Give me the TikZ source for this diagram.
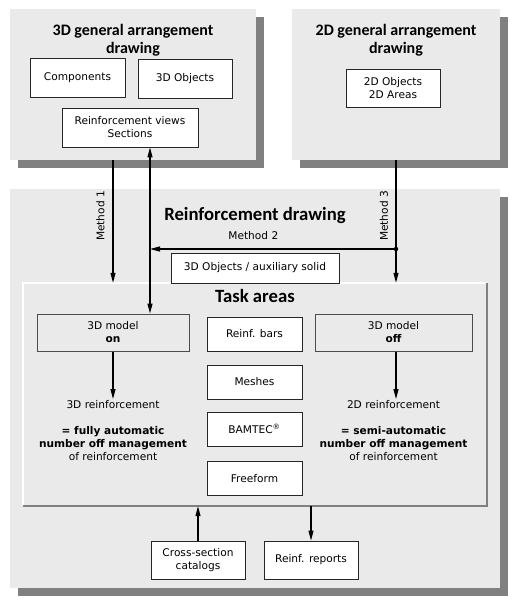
\documentclass[tikz,border=0pt]{standalone}
\usepackage{fontspec}
\setmainfont{DejaVu Sans}
\newfontfamily\titlefont{Carlito}
\usetikzlibrary{arrows.meta,shadows}
\definecolor{panelgray}{HTML}{EAEAEA}
\definecolor{shadegray}{HTML}{808080}

\begin{document}
\begin{tikzpicture}[x=1pt, y=-1pt,
	every node/.style={font=\fontsize{10.6}{13}\selectfont, align=center, inner sep=1pt},
	panel/.style={fill=panelgray, inner sep=0pt, drop shadow={shadow xshift=8pt, shadow yshift=-8pt, fill=shadegray, opacity=1}},
	textbox/.style={draw=black!85, fill=white, line width=0.9pt},
	modelbox/.style={draw=black!70, fill=panelgray, line width=1pt},
	title/.style={font=\titlefont\bfseries\fontsize{16}{18}\selectfont, inner sep=0pt},
	bigtitle/.style={font=\titlefont\bfseries\fontsize{18.7}{22}\selectfont, inner sep=0pt},
	link/.style={line width=1.2pt, -{Triangle[length=10pt,width=5pt]}},
	twoway/.style={line width=1.2pt, {Triangle[length=10pt,width=5pt]}-{Triangle[length=10pt,width=5pt]}},
	]
	\useasboundingbox (0,0) rectangle (521,604);
	\fill[white] (0,0) rectangle (521,604);

	\coordinate[](m2x) at (150,0);
	\coordinate[](m2) at (396,249);

	% Reinforcement drawing
	\node[panel, minimum width=490pt, minimum height=399pt] (rd) at (255,388.5) {};
	\node[bigtitle, anchor=base] (rdtitle) at (255,220) {Reinforcement drawing};

	% Task areas
	\node[fill=panelgray, inner sep=0pt, minimum width=464pt, minimum height=223pt] (task) at (255,394.5) {};
	\draw[white, line width=2pt] (task.south west) |- (task.north east);
	\draw[shadegray, line width=2pt] (task.south west) -| (task.north east);
	\node[bigtitle, anchor=base] (tasktitle) at (255,302) {Task areas};

	\node[textbox, minimum width=168pt, minimum height=30pt] (aux) at (255,268) {3D Objects / auxiliary solid};

	\node[modelbox, minimum width=152pt, minimum height=37pt] (onbox) at (113,332.5) {3D model\\\textbf{on}};
	\node[modelbox, minimum width=157pt, minimum height=37pt] (offbox) at (393.5,332.5) {3D model\\\textbf{off}};

	\node[textbox, minimum width=95pt, minimum height=34pt] (bars) at (254.5,334) {Reinf. bars};
	\node[textbox, minimum width=95pt, minimum height=34pt] (meshes) at (254.5,382) {Meshes};
	\node[textbox, minimum width=95pt, minimum height=34pt] (bamtec) at (254.5,429) {BAMTEC\textsuperscript{®}};
	\node[textbox, minimum width=95pt, minimum height=34pt] (freeform) at (254.5,478.5) {Freeform};

	\node[anchor=north] (reinfon) at (113,399) {3D reinforcement\\[13pt]\textbf{= fully automatic}\\\textbf{number off management}\\of reinforcement};
	\node[anchor=north] (reinfoff) at (393.5,399) {2D reinforcement\\[13pt]\textbf{= semi-automatic}\\\textbf{number off management}\\of reinforcement};

	\draw[link] (onbox.south) -- (reinfon.north);
	\draw[link] (offbox.south -| m2) -- (reinfoff.north -| m2);

	% 3D general arrangement drawing
	\node[panel, minimum width=246pt, minimum height=151pt] (ga3d) at (133,84.5) {};
	\node[title, anchor=north] (ga3dtitle) at (133,24) {3D general arrangement\\drawing};
	\node[textbox, minimum width=95pt, minimum height=39pt] (comp) at (77.5,77.5) {Components};
	\node[textbox, minimum width=94pt, minimum height=39pt] (obj3d) at (185,78.5) {3D Objects};
	\node[textbox, minimum width=136pt, minimum height=39pt] (views) at (130,127.5) {Reinforcement views\\Sections};

	% 2D general arrangement drawing
	\node[panel, minimum width=208pt, minimum height=151pt] (ga2d) at (396,84.5) {};
	\node[title, anchor=north] (ga2dtitle) at (396,24) {2D general arrangement\\drawing};
	\node[textbox, minimum width=94pt, minimum height=38pt] (obj2d) at (393,88) {2D Objects\\2D Areas};

	% Methods
	\draw[link] (ga3d.south -| onbox.north) -- (task.north -| onbox.north);
	\node[rotate=90] (m1label) at (100.5,216) {Method 1};
	\draw[twoway] (views.south -| m2x) -- (onbox.north -| m2x);
	\draw[link] (m2) -- node[pos=0.58, above=8pt] (m2label) {Method 2} (m2 -| m2x);
	\draw[link] (ga2d.south) -- (task.north -| ga2d.south);
	\node[rotate=90] (m3label) at (384,216) {Method 3};
	\fill (m2) circle (2.2pt);

	% Catalogs and reports
	\node[textbox, minimum width=94pt, minimum height=38pt] (cross) at (198,560) {Cross-section\\catalogs};
	\node[textbox, minimum width=94pt, minimum height=38pt] (reports) at (311,560) {Reinf. reports};
	\draw[link] (cross.north) -- (task.south -| cross.north);
	\draw[link] (task.south -| reports.north) -- (reports.north);

\end{tikzpicture}
\end{document}
